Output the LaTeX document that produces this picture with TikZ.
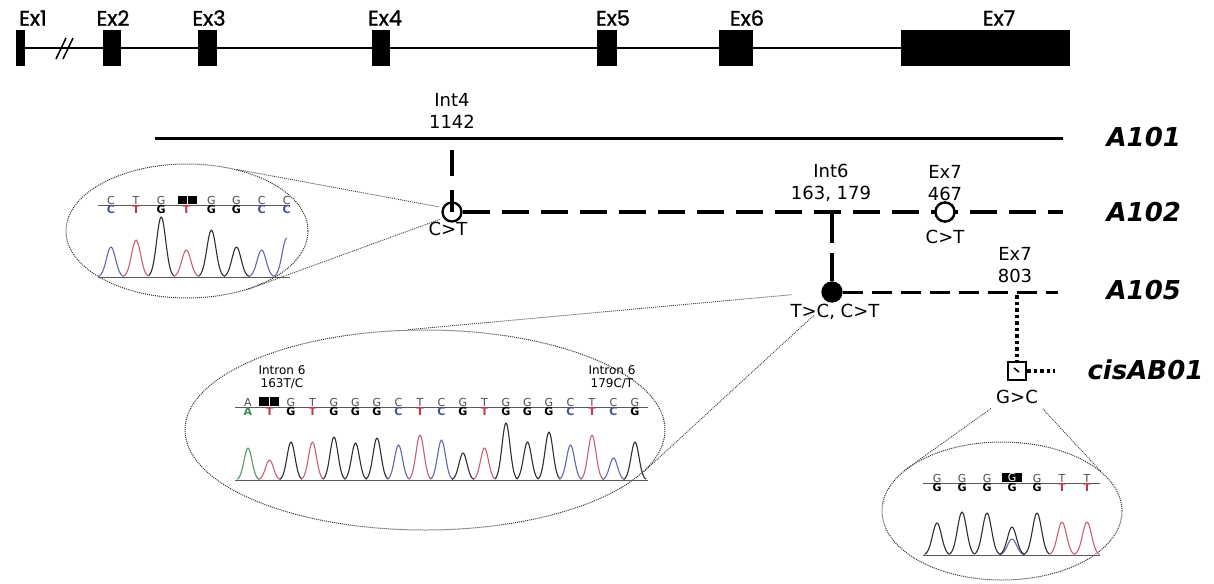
\documentclass[tikz,border=0pt]{standalone}
\usepackage{fontspec}
\setmainfont{DejaVu Sans}
\newfontfamily\exfont{Poppins}[FakeBold=1.2]
\usetikzlibrary{shapes.geometric}

\definecolor{seqblue}{RGB}{70,80,150}
\definecolor{seqred}{RGB}{185,60,80}
\definecolor{seqgreen}{RGB}{60,140,80}
\definecolor{pkblue}{RGB}{95,105,170}
\definecolor{pkred}{RGB}{200,95,115}
\definecolor{pkblack}{RGB}{45,45,50}
\definecolor{pkgreen}{RGB}{80,150,110}

\newcommand{\lab}{\fontsize{18}{22}\selectfont}
\newcommand{\hapfont}{\fontsize{26}{28}\selectfont\bfseries\itshape}
% one trace peak: x, baseline, height, half width, colour
\newcommand{\tracepeak}[5]{\draw[#5, line width=1.1pt, line join=round]
  plot[smooth, domain=-#4:#4, samples=21] ({#1+\x},{#2-#3*exp(-3.8*\x*\x/(#4*#4))});}

\tikzset{
  exlab/.style={font=\exfont\fontsize{21}{21}\selectfont},
  hapline/.style={line width=3pt},
  hapname/.style={font=\hapfont, anchor=west},
  mut/.style={circle, draw, line width=2.3pt, inner sep=0pt, minimum size=19pt},
  sub/.style={rectangle, draw, line width=2.5pt, fill=white, inner sep=0pt, minimum size=18pt},
  lens/.style={ellipse, draw=black!80, dash pattern=on 1pt off 1pt, line width=1pt, inner sep=0pt},
  zoomline/.style={draw=black!75, dash pattern=on 1pt off 1pt, line width=0.9pt},
  seqline/.style={draw=gray!70!black, line width=1pt},
  topbase/.style={font=\fontsize{11}{11}\selectfont, text=gray!60!black, anchor=base, inner sep=0pt},
  botbase/.style={font=\fontsize{11}{11}\selectfont\bfseries, anchor=north, inner sep=0pt},
}

\begin{document}
\begin{tikzpicture}[x=1pt, y=-1pt, every node/.style={font=\lab, align=center}]
  \useasboundingbox (0,0) rectangle (1214,583);

  % gene
  \draw[line width=2pt] (25,48) -- (901,48);
  \foreach \name/\xa/\xb/\tx in {Ex1/16/25/33, Ex2/103/121/113, Ex3/198/217/209, Ex4/372/390/385,
      Ex5/597/617/613, Ex6/719/753/747, Ex7/901/1070/999}{
    \fill (\xa,30) rectangle (\xb,66);
    \node[exlab] (\name) at (\tx,18) {\name};
  }
  \draw[line width=1.5pt] (56,59) -- (66,38) (63,59) -- (73,38);

  % haplotypes
  \node[mut] (c1142) at (452,212) {};
  \node[mut, fill=white] (c467) at (945,212) {};
  \node[mut, fill=black] (c163) at (832,292) {};
  \node[sub] (s803) at (1017,371) {};
  \coordinate (s101) at (155,138);  \coordinate (e101) at (1063,138);
  \coordinate (t1142) at (452,150); \coordinate (e102) at (1063,212);
  \coordinate (t163) at (832,213);  \coordinate (e105) at (1058,292);
  \coordinate (t803) at (1017,295); \coordinate (ecis) at (1055,371);

  \draw[hapline] (s101) -- (e101);
  \draw[hapline, line width=3.5pt, dash pattern=on 26pt off 14pt] (t1142) -- (c1142.center);
  \draw[hapline, line width=3.5pt, dash pattern=on 27pt off 12pt] (c1142.east) -- (e102);
  \node[mut, fill=white] at (c467) {};
  \draw[hapline, line width=3.5pt, dash pattern=on 30pt off 10pt] (t163) -- (c163);
  \draw[hapline, dash pattern=on 20pt off 9pt] (c163.east) -- (e105);
  \draw[line width=3.5pt, dash pattern=on 3.5pt off 3pt] (t803) -- (s803.north);
  \draw[line width=3.5pt, dash pattern=on 3.5pt off 3pt] (s803.east) -- (ecis);
  \draw[line width=1.5pt] ([shift={(-3,-3)}]s803.center) -- ([shift={(2,1)}]s803.center);

  \node[hapname] (A101) at (1103,137) {A101};
  \node[hapname] (A102) at (1103,212) {A102};
  \node[hapname] (A105) at (1103,290) {A105};
  \node[hapname] (cisAB01) at (1084,370) {cisAB01};

  \node (int4) at (452,111) {Int4\\1142};
  \node (ct1) at (448,229) {C>T};
  \node (int6) at (831,183) {Int6\\163, 179};
  \node (ex467) at (945,183) {Ex7\\467};
  \node (ct2) at (945,237) {C>T};
  \node (tc) at (835,312) {T>C, C>T};
  \node (ex803) at (1015,265) {Ex7\\803};
  \node (gc) at (1017,397) {G>C};

  % magnified traces
  \node[lens, minimum width=242pt, minimum height=134pt] (lensA) at (187,231) {};
  \node[lens, minimum width=480pt, minimum height=200pt] (lensB) at (425,430) {};
  \node[lens, minimum width=240pt, minimum height=138pt] (lensC) at (1002,511) {};

  \draw[zoomline, shorten <=4pt] (c1142.155) -- (lensA.51);
  \draw[zoomline, shorten <=4pt] (c1142.215) -- (lensA.-44);
  \draw[zoomline, shorten <=30pt] (c163.west) -- (lensB.100);
  \draw[zoomline, shorten <=20pt] (c163.-110) -- (lensB.-11);
  \draw[zoomline, shorten <=2pt] (gc.south west) -- (lensC.158);
  \draw[zoomline, shorten <=2pt] (gc.south east) -- (lensC.22);

  % intron 4
  \draw[seqline] (98,205) -- (290,205);
  \draw[seqline] (98,277) -- (290,277);
  \foreach \t/\b/\c [count=\i from 0] in {C/C/seqblue, T/T/seqred, G/G/black, {}/T/seqred,
      G/G/black, G/G/black, C/C/seqblue, C/C/seqblue}{
    \node[topbase] (at\i) at (111+25.1*\i,204) {\t};
    \node[botbase, text=\c] (ab\i) at (111+25.1*\i,205.5) {\b};
  }
  \fill (178,196) rectangle (197,204);
  \draw[white, line width=0.7pt] (187.5,196) -- (187.5,204);
  \foreach \h/\c [count=\i from 0] in {30/pkblue, 37/pkred, 60/pkblack, 27/pkred, 47/pkblack,
      30/pkblack, 27/pkblue}{
    \tracepeak{111+25.1*\i}{277}{\h}{12.5}{\c}
  }
  \draw[pkblue, line width=1.1pt] plot[smooth, domain=-12.5:0, samples=11]
    ({286.7+\x},{277-39*exp(-3.8*\x*\x/156.25)});

  % intron 6
  \node[font=\fontsize{12}{13}\selectfont] (i163) at (282,377) {Intron 6\\163T/C};
  \node[font=\fontsize{12}{13}\selectfont] (i179) at (612,377) {Intron 6\\179C/T};
  \draw[seqline] (235,407) -- (648,407);
  \draw[seqline] (235,480) -- (648,480);
  \foreach \t/\b/\c [count=\i from 0] in {A/A/seqgreen, {}/T/seqred, G/G/black, T/T/seqred,
      G/G/black, G/G/black, G/G/black, C/C/seqblue, T/T/seqred, C/C/seqblue, G/G/black,
      T/T/seqred, G/G/black, G/G/black, G/G/black, C/C/seqblue, T/T/seqred, C/C/seqblue, G/G/black}{
    \node[topbase] (bt\i) at (248+21.5*\i,406) {\t};
    \node[botbase, text=\c] (bb\i) at (248+21.5*\i,407.5) {\b};
  }
  \fill (259,397) rectangle (279,406);
  \draw[white, line width=0.7pt] (269,397) -- (269,406);
  \foreach \h/\c [count=\i from 0] in {32/pkgreen, 20/pkred, 38/pkblack, 38/pkred, 43/pkblack,
      37/pkblack, 42/pkblack, 35/pkblue, 45/pkred, 40/pkblue, 27/pkblack, 32/pkred, 57/pkblack,
      38/pkblack, 48/pkblack, 35/pkblue, 45/pkred, 22/pkblue, 38/pkblack}{
    \tracepeak{248+21.5*\i}{480}{\h}{11}{\c}
  }

  % exon 7
  \draw[seqline] (923,483) -- (1100,483);
  \draw[seqline] (923,555) -- (1100,555);
  \foreach \t/\b/\c [count=\i from 0] in {G/G/black, G/G/black, G/G/black, {}/G/black,
      G/G/black, T/T/seqred, T/T/seqred}{
    \node[topbase] (ct\i) at (937+25*\i,482) {\t};
    \node[botbase, text=\c] (cb\i) at (937+25*\i,483.5) {\b};
  }
  \fill (1002,473) rectangle (1022,482);
  \node[topbase, text=white] (cbox) at (1012,481) {G};
  \tracepeak{1012}{555}{16}{12.5}{pkblue}
  \foreach \h/\c [count=\i from 0] in {32/pkblack, 43/pkblack, 42/pkblack, 28/pkblack,
      42/pkblack, 33/pkred, 33/pkred}{
    \tracepeak{937+25*\i}{555}{\h}{12.5}{\c}
  }
\end{tikzpicture}
\end{document}
